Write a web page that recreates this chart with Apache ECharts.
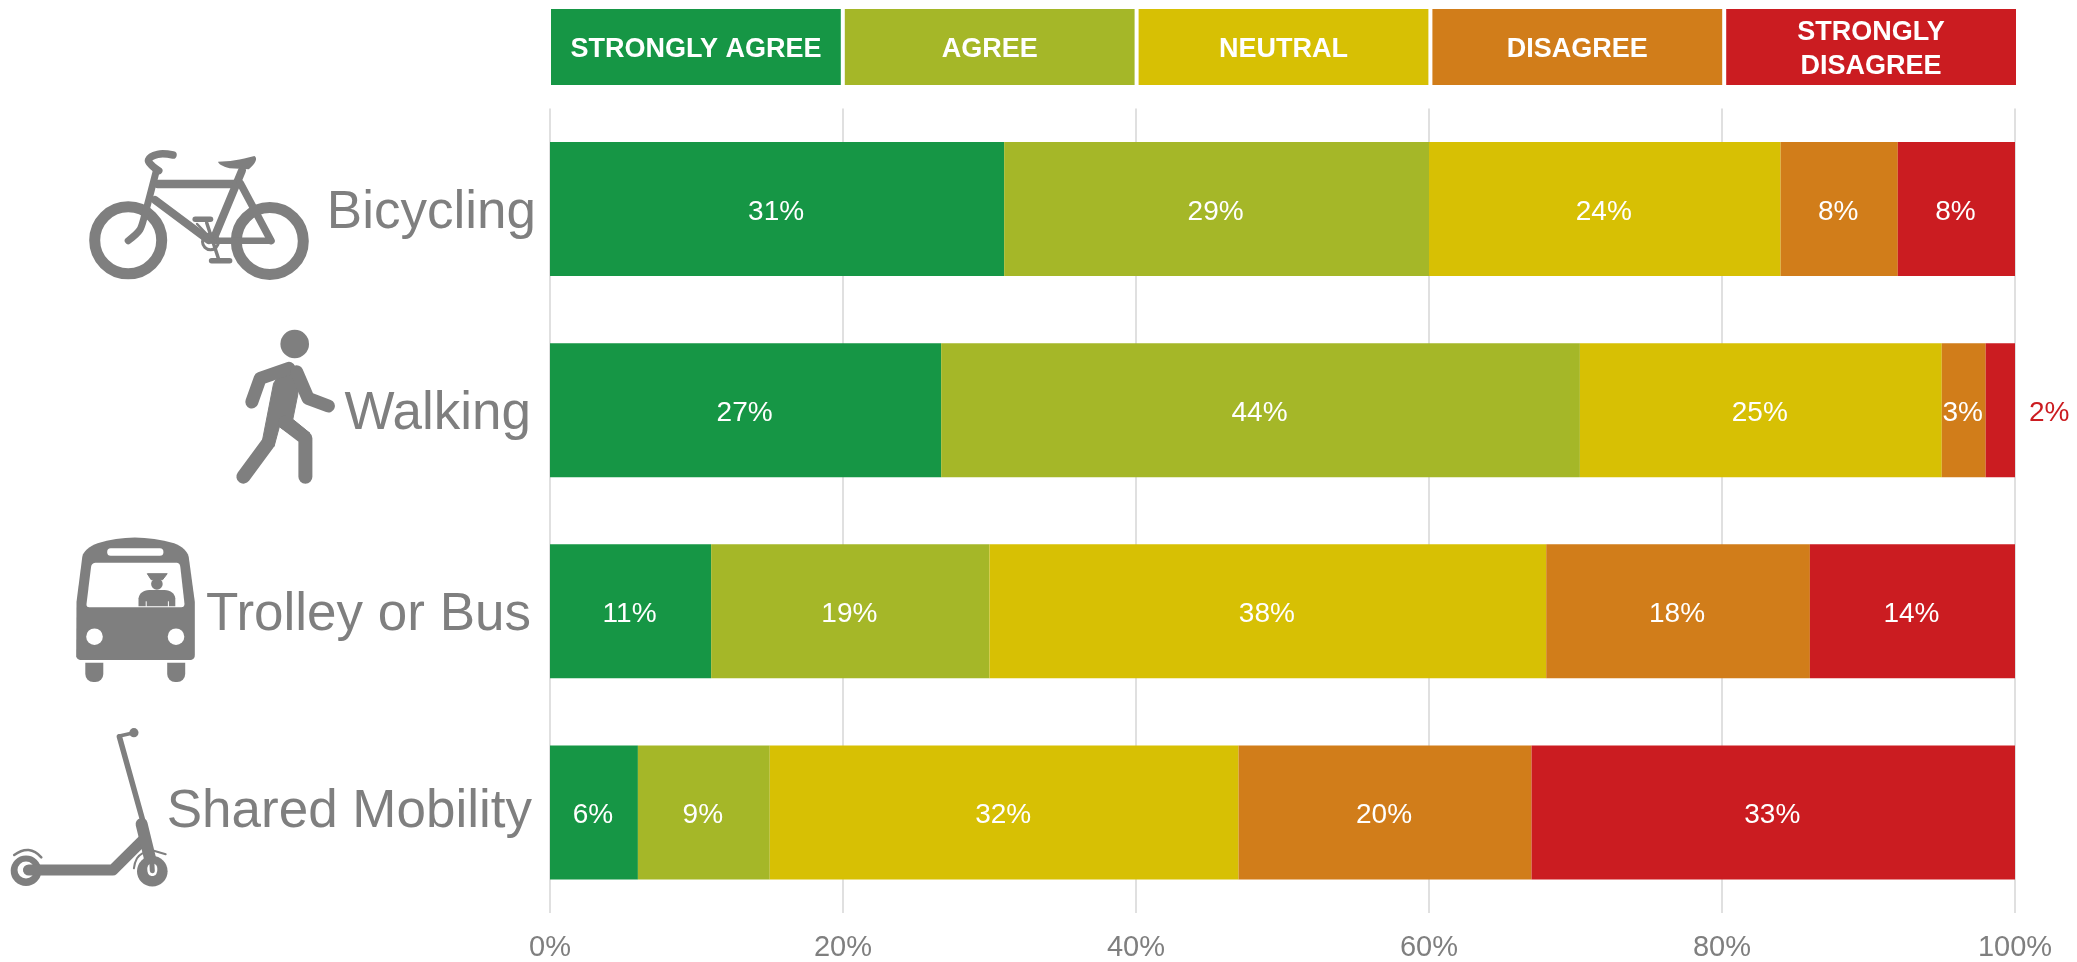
<!DOCTYPE html>
<html><head><meta charset="utf-8">
<style>html,body{margin:0;padding:0;background:#fff}#c{width:2077px;height:962px}</style>
<script src="https://cdn.jsdelivr.net/npm/echarts@6/dist/echarts.min.js"></script>
</head><body><div id="c"></div>
<script>
const categories = ['Bicycling','Walking','Trolley or Bus','Shared Mobility'];
const responseNames = ['STRONGLY AGREE','AGREE','NEUTRAL','DISAGREE','STRONGLY\nDISAGREE'];
const colors = ['#169645','#a5b728','#d7c004','#d17d1a','#cb1c21'];
const stronglyAgree = [31,26.7,11,6];
const agree = [29,43.6,19,9];
const neutral = [24,24.7,38,32];
const disagree = [8,3,18,20];
const stronglyDisagree = [8,2,14,33];
const headerWidths = [20,20,20,20,20];
const tickValues = [0,20,40,60,80,100];
const seriesValues = [stronglyAgree,agree,neutral,disagree,stronglyDisagree];

const GRAY = '#7f7f7f';
const FONT = '"Liberation Sans", Arial, sans-serif';

/* Pictograms are decoration, traced in px */
const fx = x => +(x/2.613).toFixed(1);
const f1y = y => +(100+y/3).toFixed(1);
const f2y = y => +(510+y/3).toFixed(1);
function line(pts, fy, w, color, smooth){
  return {type:'polyline', silent:true, shape:{points:pts.map(p=>[fx(p[0]),fy(p[1])]),smooth:smooth||0},
    style:{stroke:color||GRAY,lineWidth:w,fill:null,lineCap:'round',lineJoin:'round'}};
}
function poly(pts, fy, color){
  return {type:'polygon', silent:true, shape:{points:pts.map(p=>[fx(p[0]),fy(p[1])])},
    style:{fill:color||GRAY,stroke:color||GRAY,lineWidth:1,lineJoin:'round'}};
}
function ring(cx,cy,r,w,fy,fill){
  return {type:'circle', silent:true, shape:{cx:fx(cx),cy:fy(cy),r:r},
    style:{stroke:w?GRAY:null,lineWidth:w,fill:fill||null}};
}
function rrect(x0,y0,x1,y1,fy,r,color){
  return {type:'rect', silent:true, shape:{x:fx(x0),y:fy(y0),width:fx(x1)-fx(x0),height:fy(y1)-fy(y0),r:r},
    style:{fill:color||GRAY}};
}
/* outline: a point is [x,y]; a curve segment is [cx,cy,x,y] (quadratic) */
function outline(segs, fy, color){
  const out=[]; let cur=null;
  segs.forEach(s=>{
    if(s.length===2){out.push(s);cur=s;}
    else{
      for(let t=1;t<=8;t++){
        const u=t/8,a=(1-u)*(1-u),b=2*u*(1-u),c=u*u;
        out.push([a*cur[0]+b*s[0]+c*s[2],a*cur[1]+b*s[1]+c*s[3]]);
      }
      cur=[s[2],s[3]];
    }
  });
  return {type:'polygon',silent:true,shape:{points:out.map(p=>[fx(p[0]),fy(p[1])])},style:{fill:color||GRAY}};
}
const bike = [
  ring(335,421,33.5,11,f1y), ring(705,423,33.5,11,f1y),
  line([[452,165],[412,163],[388,180],[400,200],[415,212]],f1y,7.5,GRAY,0.4),
  line([[408,215],[378,345],[365,390],[335,422]],f1y,7,GRAY,0.3),
  line([[412,252],[620,252]],f1y,8.5),
  line([[405,300],[545,420]],f1y,8),
  line([[632,212],[560,412]],f1y,8),
  line([[628,250],[708,422]],f1y,7.5),
  line([[555,422],[708,422]],f1y,6.5),
  outline([[570,185],[610,185,665,168],[678,180,650,208],[600,205],[570,195,570,185]],f1y),
  line([[510,358],[550,358]],f1y,5.5),
  line([[553,482],[600,482]],f1y,5.5),
  line([[540,368],[572,480]],f1y,3.5),
  line([[515,372],[555,420]],f1y,2.5),
  ring(550,425,8,3,f1y)
];
const walker = [
  ring(770,732,14.3,0,f1y,GRAY),
  poly([[715,850],[750,792],[785,805],[778,885],[765,958],[810,1000],[780,1020],[730,980],[716,1040],[685,1025]],f1y),
  line([[755,805],[680,835],[658,906]],f1y,13),
  line([[775,815],[805,895],[858,918]],f1y,13),
  line([[700,1030],[636,1130]],f1y,14),
  line([[745,968],[798,1015],[798,1130]],f1y,14)
];
const bus = [
  outline([[200,275],[215,140],[220,115,255,100],[350,65,455,100],[488,115,493,140],[509,275],[509,435],[509,450,495,450],[213,450],[199,450,199,435]],f2y),
  outline([[238,170],[240,158,252,158],[460,158],[470,158,471,170],[482,282],[482,292,472,292],[235,292],[225,292,226,282]],f2y,'#fff'),
  rrect(280,115,427,137,f2y,3.5,'#fff'),
  ring(247,380,8.3,0,f2y,'#fff'), ring(460,380,8.3,0,f2y,'#fff'),
  rrect(223,458,270,516,f2y,[0,0,8,8]), rrect(437,458,484,516,f2y,[0,0,8,8]),
  poly([[385,191],[437,191],[425,209],[395,209]],f2y),
  ring(410,222,5.8,0,f2y,GRAY),
  outline([[362,289],[362,265],[365,242,390,240],[430,240],[455,242,458,265],[458,289]],f2y),
  line([[382,275],[382,289]],f2y,1,'#fff'), line([[440,275],[440,289]],f2y,1,'#fff')
];
const scooter = [
  line([[312,680],[375,940]],f2y,5.5),
  line([[312,678],[350,668]],f2y,3.5),
  ring(350,668,4.6,0,f2y,GRAY),
  ring(68,1082,15.3,0,f2y,GRAY),
  ring(68,1080,8.5,0,f2y,'#fff'),
  ring(72,1080,4.5,0,f2y,GRAY),
  line([[75,1080],[295,1080],[378,985]],f2y,11),
  line([[370,942],[393,1050]],f2y,12),
  ring(398,1084,15.3,0,f2y,GRAY),
  outline([[398,1060],[412,1062,411,1080],[410,1098,398,1098],[386,1098,385,1080],[384,1062,398,1060]],f2y,'#fff'),
  line([[397,1060],[398,1082]],f2y,5),
  line([[37,1035],[75,1020],[108,1042]],f2y,2.5,GRAY,0.5),
  line([[350,1075],[358,1045],[372,1030]],f2y,2,GRAY,0.5),
  line([[402,1022],[433,1033]],f2y,2)
];
const icons = [].concat(bike,walker,bus,scooter);

const labelPads = {a:[8,0,0,0], b:[8,5,0,0], c:[8,5,0,0], d:[0,4,0,0]};
const rowKey = ['a','b','c','d'];
const rich = {};
rowKey.forEach(k=>{ rich[k]={fontFamily:FONT,fontSize:53,color:GRAY,padding:labelPads[k]}; });

const chart = echarts.init(document.getElementById('c'),null,{renderer:'canvas'});
chart.setOption({
  animation:false,
  backgroundColor:'#fff',
  grid:[
    {left:550,width:1465,top:108.5,height:805.5},
    {left:549,width:1469,top:7,height:80}
  ],
  xAxis:[
    {type:'value',gridIndex:0,min:0,max:100,interval:20,
      axisLine:{show:false},axisTick:{show:false},
      splitLine:{show:true,showMinLine:true,showMaxLine:true,lineStyle:{color:'#e0e0e0',width:2}},
      axisLabel:{formatter:v=>tickValues.includes(v)?v+'%':'',color:GRAY,fontSize:29,fontFamily:FONT,margin:20,hideOverlap:false,alignMinLabel:'center',alignMaxLabel:'center'}},
    {type:'value',gridIndex:1,min:0,max:100,show:false}
  ],
  yAxis:[
    {type:'category',gridIndex:0,inverse:true,data:categories,
      axisLine:{show:false},axisTick:{show:false},splitLine:{show:false},
      axisLabel:{margin:14,rich:rich,interval:0,
        formatter:(v,i)=>'{'+rowKey[i]+'|'+v+'}'}},
    {type:'category',gridIndex:1,data:['Legend'],show:false}
  ],
  series:[
    ...seriesValues.map((vals,s)=>({
      type:'bar',name:responseNames[s].replace('\n',' '),stack:'share',xAxisIndex:0,yAxisIndex:0,
      barWidth:'66.6%',z:3,
      itemStyle:{color:colors[s]},
      label:{show:true,position:'inside',offset:[-1,3],color:'#fff',fontSize:28,fontFamily:FONT,
        formatter:p=>Math.round(p.value)+'%'},
      data:vals.map(v=>v<=2?{value:v,label:{position:'right',distance:14,offset:[0,3],color:colors[s]}}:v)
    })),
    ...headerWidths.map((w,s)=>({
      type:'bar',name:responseNames[s],stack:'header',xAxisIndex:1,yAxisIndex:1,
      barWidth:'100%',z:3,
      itemStyle:{color:colors[s],borderColor:'#fff',borderWidth:2},
      label:{show:true,position:'inside',offset:[0,3],color:'#fff',fontSize:27,fontWeight:'bold',fontFamily:FONT,lineHeight:34,
        formatter:()=>responseNames[s]},
      data:[w]
    }))
  ],
  graphic:{elements:icons}
});
</script>
</body></html>
